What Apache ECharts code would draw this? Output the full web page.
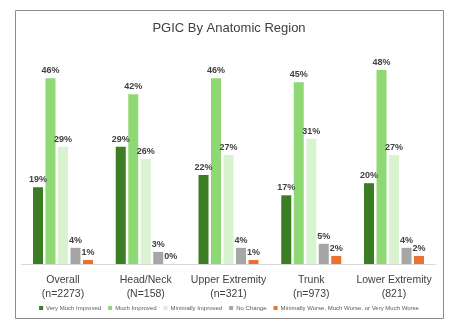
<!DOCTYPE html>
<html><head><meta charset="utf-8">
<script src="https://cdn.jsdelivr.net/npm/echarts@6/dist/echarts.min.js"></script>
<style>html,body{margin:0;padding:0;background:#fff}#c{width:458px;height:326px}</style>
</head><body><div id="c"></div>
<script>
const categories = ['Overall\n(n=2273)', 'Head/Neck\n(N=158)', 'Upper Extremity\n(n=321)', 'Trunk\n(n=973)', 'Lower Extremity\n(821)'];
const seriesNames = ['Very Much Improved', 'Much Improved', 'Minimally Improved', 'No Change', 'Minimally Worse, Much Worse, or Very Much Worse'];
const veryMuchImproved = [19, 29, 22, 17, 20];
const muchImproved = [46, 42, 46, 45, 48];
const minimallyImproved = [29, 26, 27, 31, 27];
const noChange = [4, 3, 4, 5, 4];
const worse = [1, 0, 1, 2, 2];
const colors = ['#3b7d23', '#8ed973', '#d9f2d0', '#a6a6a6', '#e97132'];

const allData = [veryMuchImproved, muchImproved, minimallyImproved, noChange, worse];
const chart = echarts.init(document.getElementById('c'), null, {renderer: 'canvas'});
chart.setOption({
  animation: false,
  backgroundColor: '#fff',
  title: {text: 'PGIC By Anatomic Region', left: 'center', top: 17,
    textStyle: {fontFamily: 'Liberation Sans', fontSize: 13, fontWeight: 'normal', color: '#404040'}},
  graphic: [{type: 'rect', shape: {x: 15.5, y: 10.5, width: 428, height: 308},
    style: {fill: 'none', stroke: '#8c8c8c', lineWidth: 1}, silent: true, z: -1}],
  legend: {bottom: 10, left: 'center', itemWidth: 4, itemHeight: 4, itemGap: 7,
    icon: 'rect', textStyle: {fontFamily: 'Liberation Sans', fontSize: 6, color: '#595959', padding: [0, 0, 0, -2]}},
  grid: {left: 21.6, right: 22.6, top: 62, bottom: 62},
  xAxis: {type: 'category', data: categories,
    axisLine: {lineStyle: {color: '#d9d9d9'}}, axisTick: {show: false},
    axisLabel: {interval: 0, fontFamily: 'Liberation Sans', fontSize: 10.5, lineHeight: 14, color: '#404040', margin: 9}},
  yAxis: {type: 'value', min: 0, max: 50, show: false, splitLine: {show: false}},
  series: seriesNames.map((n, i) => ({
    name: n, type: 'bar', data: allData[i], barWidth: 10, barGap: '25%',
    itemStyle: {color: colors[i]},
    label: {show: true, position: 'top', distance: 3, formatter: '{c}%',
      fontFamily: 'Liberation Sans', fontSize: 9, fontWeight: 'bold', color: '#404040'}
  }))
});
</script></body></html>
